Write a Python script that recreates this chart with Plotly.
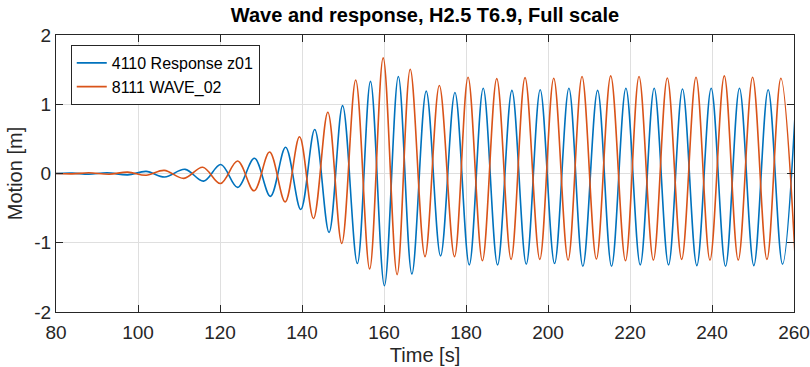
import plotly.graph_objects as go

# Response (blue): times and values of successive extrema
resp_t = [80, 84, 88, 92.5, 97.5, 102, 106.5, 111.5, 116.0, 120.2, 124.3, 128.4,
          132.3, 136.0, 139.7, 143.1, 146.6, 149.9, 153.5, 156.7, 160.1, 163.5,
          166.8, 170.3, 173.8, 177.3, 180.8, 184.2, 187.7, 191.2, 194.7, 198.1,
          201.6, 205.1, 208.5, 212.1, 215.5, 219.0, 222.5, 225.9, 229.4, 232.8,
          236.3, 239.8, 243.3, 246.7, 250.2, 253.7, 257.2, 260.6]
resp_v = [0, 0.005, -0.01, 0.01, -0.02, 0.03, -0.05, 0.06, -0.11, 0.13, -0.20, 0.22,
          -0.33, 0.38, -0.52, 0.635, -0.85, 0.98, -1.30, 1.33, -1.62, 1.40,
          -1.45, 1.19, -1.19, 1.17, -1.32, 1.23, -1.32, 1.20, -1.31, 1.21,
          -1.30, 1.23, -1.34, 1.20, -1.34, 1.23, -1.32, 1.23, -1.32, 1.22,
          -1.33, 1.23, -1.34, 1.23, -1.33, 1.21, -1.31, 1.23]

# Wave (orange)
wave_t = [80, 84, 88, 93, 97.5, 102, 106.4, 111.2, 115.8, 120.1, 124.3, 128.3,
          132.1, 135.9, 139.4, 142.8, 146.3, 149.7, 153.1, 156.5, 159.8, 163.2,
          166.4, 170.0, 173.5, 177.2, 180.5, 184.0, 187.5, 191.0, 194.4, 198.0,
          201.4, 204.9, 208.3, 211.8, 215.3, 218.9, 222.2, 225.7, 229.1, 232.6,
          236.1, 239.5, 243.0, 246.4, 249.9, 253.4, 256.8, 260.3]
wave_v = [0, -0.005, 0.01, -0.01, 0.02, -0.025, 0.045, -0.07, 0.09, -0.145, 0.18, -0.25,
          0.31, -0.41, 0.53, -0.65, 0.885, -1.01, 1.35, -1.38, 1.67, -1.46,
          1.505, -1.20, 1.27, -1.20, 1.39, -1.26, 1.37, -1.24, 1.385, -1.24,
          1.375, -1.25, 1.40, -1.235, 1.41, -1.26, 1.40, -1.25, 1.38, -1.24,
          1.39, -1.25, 1.41, -1.25, 1.39, -1.24, 1.375, -1.24]

x_ticks = [80, 100, 120, 140, 160, 180, 200, 220, 240, 260]
y_ticks = [-2, -1, 0, 1, 2]
y_tick_text = ["-2", "-1", "0", "1", "2"]

FONT = "Liberation Sans, Arial, Helvetica, sans-serif"
AX = "#262626"
GRID = "#dfdfdf"

fig = go.Figure()
fig.add_trace(go.Scatter(x=resp_t, y=resp_v, mode="lines", name="4110 Response z01",
                         line=dict(color="#0072BD", width=1.6, shape="spline", smoothing=1.0)))
fig.add_trace(go.Scatter(x=wave_t, y=wave_v, mode="lines", name="8111 WAVE_02",
                         line=dict(color="#D95319", width=1.6, shape="spline", smoothing=1.0)))

fig.update_layout(
    width=810, height=367,
    margin=dict(l=56, r=16, t=35, b=55, autoexpand=False),
    paper_bgcolor="white", plot_bgcolor="white",
    font=dict(family=FONT, size=19, color=AX),
    title=dict(text="<b>Wave and response, H2.5 T6.9, Full scale</b>",
               x=0.5, xref="paper", xanchor="center", y=0.958, yanchor="middle",
               font=dict(family=FONT, size=20, color="#000000")),
    legend=dict(x=0.02, y=0.964, xanchor="left", yanchor="top",
                bgcolor="white", bordercolor=AX, borderwidth=1,
                font=dict(family=FONT, size=16, color="#000000"),
                tracegroupgap=0),
    showlegend=True,
)
fig.update_xaxes(range=[80, 260], tickvals=x_ticks, ticks="inside", ticklen=7,
                 tickcolor=AX, showline=True, linecolor=AX, linewidth=1,
                 mirror="allticks", showgrid=True, gridcolor=GRID, gridwidth=1,
                 zeroline=False, tickfont=dict(size=19, color=AX), automargin=False,
                 ticklabelstandoff=3,
                 title=dict(text="Time [s]", font=dict(size=20, color=AX), standoff=6))
fig.update_yaxes(range=[-2, 2], tickvals=y_ticks, ticktext=y_tick_text, ticks="inside",
                 ticklen=7, tickcolor=AX, showline=True, linecolor=AX, linewidth=1,
                 mirror="allticks", showgrid=True, gridcolor=GRID, gridwidth=1,
                 zeroline=False, tickfont=dict(size=19, color=AX), automargin=False,
                 title=dict(text="Motion [m]", font=dict(size=20, color=AX), standoff=6))

fig.write_html("out.html")
